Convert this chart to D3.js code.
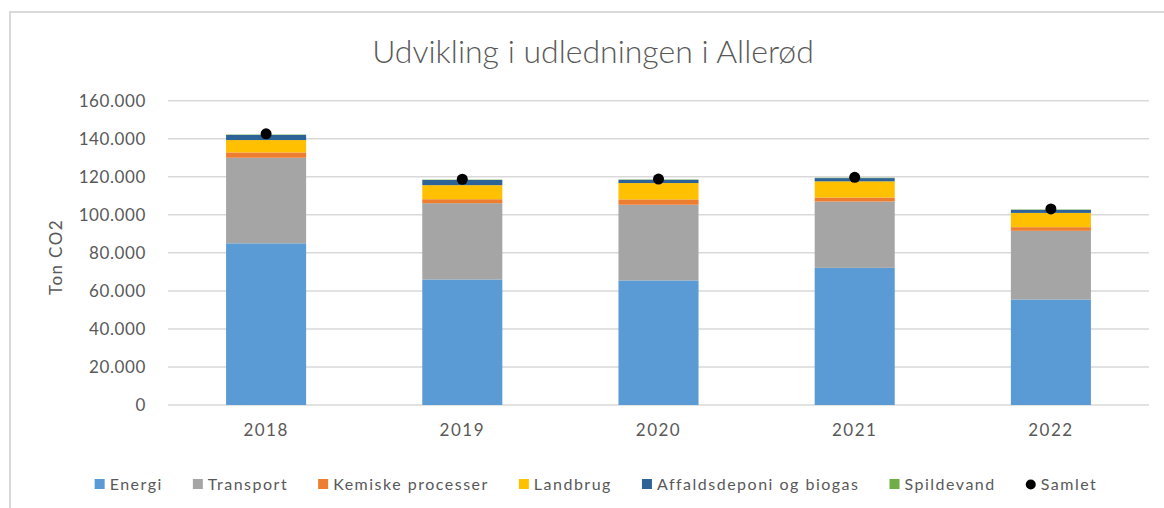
<!DOCTYPE html>
<html>
<head>
<meta charset="utf-8">
<script src="https://cdn.jsdelivr.net/npm/d3@7"></script>
<style>
  html, body { margin: 0; padding: 0; background: #fff; }
  svg { display: block; }
  text { font-family: Lato, "Open Sans", sans-serif; fill: #595959; }
</style>
</head>
<body>
<script>
// ---- data ----
const years = ["2018", "2019", "2020", "2021", "2022"];
const seriesNames = ["Energi", "Transport", "Kemiske processer", "Landbrug", "Affaldsdeponi og biogas", "Spildevand"];
const energi      = [85000, 66000, 65500, 72100, 55500];
const transport   = [45000, 40100, 39800, 34900, 36100];
const kemiske     = [2800, 2100, 2800, 2100, 1900];
const landbrug    = [6500, 7400, 8600, 8500, 7500];
const affald      = [2700, 2700, 1700, 1700, 1600];
const spildevand  = [200, 200, 200, 200, 200];
const samlet      = [142600, 118700, 118800, 119700, 103100];
const yTicks      = [0, 20000, 40000, 60000, 80000, 100000, 120000, 140000, 160000];
const colors = ["#5B9BD5", "#A5A5A5", "#ED7D31", "#FFC000", "#2E6398", "#70AD47"];

const W = 1164, H = 508;
const svg = d3.select("body").append("svg").attr("width", W).attr("height", H);

// frame
svg.append("rect").attr("x", 10).attr("y", 12).attr("width", W + 20).attr("height", H + 20)
  .attr("fill", "#fff").attr("stroke", "#d9d9d9").attr("stroke-width", 2);

const x0 = 168, x1 = 1149, yBase = 405, yTop = 100.7;
const x = d3.scaleBand().domain(years).range([x0, x1]).padding(0);
const y = d3.scaleLinear().domain([0, 160000]).range([yBase, yTop]);
const barW = x.bandwidth() * 0.408;

const loc = d3.formatLocale({decimal: ",", thousands: ".", grouping: [3], currency: ["", " kr."]});
const fmt = loc.format(",d");

// gridlines
svg.append("g").selectAll("line").data(yTicks).join("line")
  .attr("x1", x0).attr("x2", x1)
  .attr("y1", d => y(d)).attr("y2", d => y(d))
  .attr("stroke", "#d9d9d9").attr("stroke-width", 1.5);

// y axis labels via d3 axis
const yAxis = svg.append("g").attr("transform", `translate(${x0},0)`)
  .call(d3.axisLeft(y).tickValues(yTicks).tickFormat(d => fmt(d)).tickSize(0).tickPadding(22));
yAxis.select(".domain").remove();
yAxis.selectAll("text").style("font-family", "Lato, sans-serif").style("font-size", "17px")
  .style("letter-spacing", "0.6px").attr("fill", "#595959");

// x axis labels
const xAxis = svg.append("g").attr("transform", `translate(0,${yBase})`)
  .call(d3.axisBottom(x).tickSize(0).tickPadding(19));
xAxis.select(".domain").remove();
xAxis.selectAll("text").style("font-family", "Lato, sans-serif").style("font-size", "17px")
  .style("letter-spacing", "1.5px").attr("fill", "#595959");

// stacked bars
const rows = years.map((yr, i) => ({
  year: yr,
  "Energi": energi[i], "Transport": transport[i], "Kemiske processer": kemiske[i],
  "Landbrug": landbrug[i], "Affaldsdeponi og biogas": affald[i], "Spildevand": spildevand[i]
}));
const stack = d3.stack().keys(seriesNames)(rows);
svg.append("g").selectAll("g").data(stack).join("g")
  .attr("fill", (d, i) => colors[i])
  .selectAll("rect").data(d => d).join("rect")
  .attr("x", d => x(d.data.year) + (x.bandwidth() - barW) / 2)
  .attr("width", barW)
  .attr("y", d => y(d[1]))
  .attr("height", d => y(d[0]) - y(d[1]));

// samlet dots
svg.append("g").selectAll("circle").data(samlet).join("circle")
  .attr("cx", (d, i) => x(years[i]) + x.bandwidth() / 2)
  .attr("cy", d => y(d))
  .attr("r", 5.5).attr("fill", "#000");

// title
svg.append("text").attr("x", 593).attr("y", 63).attr("text-anchor", "middle")
  .style("font-size", "32px").style("font-weight", 300).attr("fill", "#595959")
  .text("Udvikling i udledningen i Allerød");

// y title
svg.append("text").attr("transform", "translate(62,257) rotate(-90)").attr("text-anchor", "middle")
  .style("font-size", "17px").style("letter-spacing", "1.4px").attr("fill", "#595959").text("Ton CO2");

// legend
const legendItems = seriesNames.map((n, i) => ({name: n, color: colors[i], type: "rect"}))
  .concat([{name: "Samlet", color: "#000", type: "circle"}]);
const lg = svg.append("g");
const items = lg.selectAll("g").data(legendItems).join("g");
items.append("text").attr("x", 15).attr("y", 490)
  .style("font-size", "16px").style("letter-spacing", "1.5px").attr("fill", "#595959")
  .text(d => d.name);
items.each(function(d) {
  const g = d3.select(this);
  if (d.type === "rect") g.append("rect").attr("x", 0).attr("y", 479).attr("width", 10).attr("height", 10).attr("fill", d.color);
  else g.append("circle").attr("cx", 5).attr("cy", 484.5).attr("r", 5).attr("fill", d.color);
});
const gap = 30;
const widths = [];
items.each(function() { widths.push(this.querySelector("text").getComputedTextLength() + 15); });
const total = d3.sum(widths) + gap * (widths.length - 1);
let cx = 596 - total / 2;
items.attr("transform", (d, i) => { const t = `translate(${cx},0)`; cx += widths[i] + gap; return t; });
</script>
</body>
</html>
